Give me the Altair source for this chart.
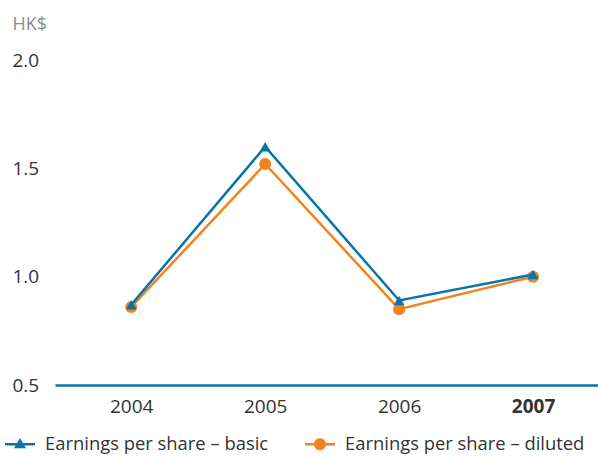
import altair as alt
import pandas as pd

years = ["2004", "2005", "2006", "2007"]
basic = [0.87, 1.60, 0.89, 1.01]
diluted = [0.86, 1.52, 0.85, 1.00]
series_names = ["Earnings per share – basic", "Earnings per share – diluted"]
colors = ["#0b74a7", "#f5821f"]
y_ticks = [0.5, 1.0, 1.5, 2.0]

rows = []
for yr, b, d in zip(years, basic, diluted):
    rows.append({"year": yr, "series": series_names[0], "value": b})
    rows.append({"year": yr, "series": series_names[1], "value": d})
df = pd.DataFrame(rows)

FONT = "Open Sans"
BLUE, ORANGE = colors

x = alt.X(
    "year:O",
    sort=years,
    scale=alt.Scale(type="point", padding=0.527, align=0.54),
    axis=alt.Axis(
        title=None, labelAngle=0, ticks=False, tickSize=0, grid=False,
        domain=True, domainColor=BLUE, domainWidth=2.5,
        labelFont=FONT, labelFontSize=19, labelColor="#333333", labelPadding=12,
        labelFontWeight={"condition": {"test": "datum.value == '2007'", "value": "bold"}, "value": "normal"},
    ),
)
y = alt.Y(
    "value:Q",
    scale=alt.Scale(domain=[0.5, 2.0], nice=False, zero=False),
    axis=alt.Axis(
        values=y_ticks, format=".1f", grid=False, domain=False, ticks=False, tickSize=0,
        labelAlign="left", labelPadding=43, labelFont=FONT, labelFontSize=19, labelColor="#333333",
        title="HK$", titleAngle=0, titleAlign="left", titleBaseline="alphabetic",
        titleX=-43, titleY=-31, titleColor="#8c8c8c", titleFont=FONT, titleFontSize=18,
        titleFontWeight="normal",
    ),
)

base = alt.Chart(df)

def line_layer(name, color):
    return base.transform_filter(alt.datum.series == name).mark_line(
        color=color, strokeWidth=2.5
    ).encode(x=x, y=y)

def point_layer(name, color, shape, size):
    return base.transform_filter(alt.datum.series == name).mark_point(
        color=color, filled=True, opacity=1, shape=shape, size=size
    ).encode(x=x, y=y)

tri_path = "M-1,-0.085H1V0.085H-1Z M0,-0.42L0.4,0.26H-0.4Z"
circ_path = "M-1,-0.085H1V0.085H-1Z M-0.4,0A0.4,0.4 0 1,1 0.4,0A0.4,0.4 0 1,1 -0.4,0Z"

legend = alt.Legend(
    title=None, orient="none", legendX=-50, legendY=369, direction="horizontal",
    columns=2, columnPadding=36, symbolSize=900, symbolStrokeWidth=0, symbolOpacity=1,
    labelFont=FONT, labelFontSize=18.4, labelColor="#333333", labelOffset=10, labelLimit=400,
)
legend_layer = base.mark_point(filled=True, opacity=0).encode(
    x=x, y=y,
    color=alt.Color("series:N", scale=alt.Scale(domain=series_names, range=colors), legend=legend),
    shape=alt.Shape("series:N", scale=alt.Scale(domain=series_names, range=[tri_path, circ_path]), legend=legend),
)

chart = alt.layer(
    line_layer(series_names[1], ORANGE),
    point_layer(series_names[1], ORANGE, "circle", 144),
    line_layer(series_names[0], BLUE),
    point_layer(series_names[0], BLUE, "triangle-up", 121),
    legend_layer,
).properties(
    width=543, height=325,
    background="white",
    autosize=alt.AutoSizeParams(type="none"),
    padding={"left": 55, "top": 60, "right": 0, "bottom": 71},
).configure_view(strokeWidth=0, stroke=None)

chart.save("out.html", embed_options={"renderer": "svg", "actions": False})
